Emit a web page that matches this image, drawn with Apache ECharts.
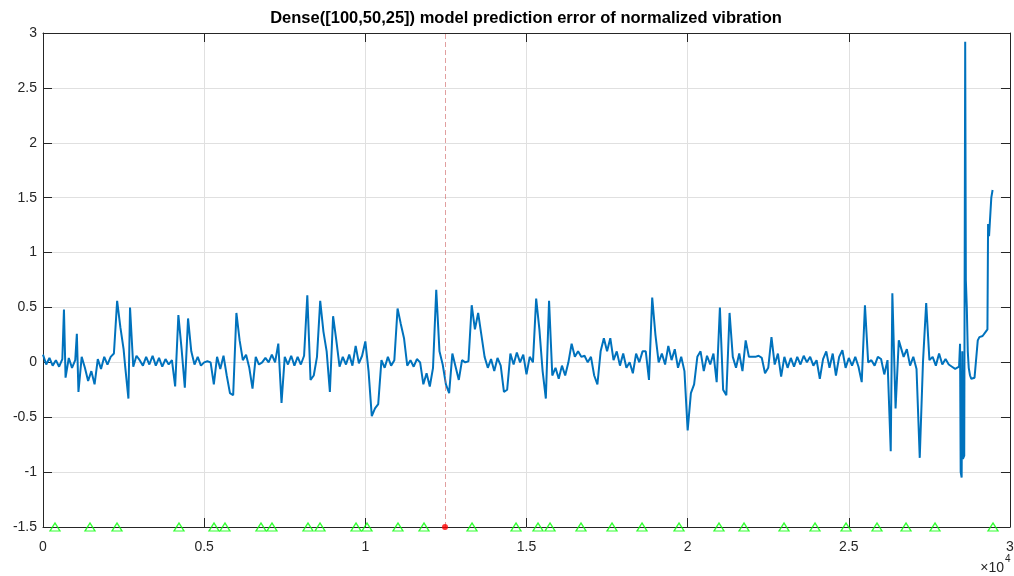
<!DOCTYPE html>
<html>
<head>
<meta charset="utf-8">
<title>Dense model prediction error</title>
<script src="https://cdn.jsdelivr.net/npm/echarts@6/dist/echarts.min.js"></script>
<style>
  html, body { margin: 0; padding: 0; background: #fff; }
  #chart { width: 1014px; height: 576px; }
</style>
</head>
<body>
<div id="chart"></div>
<script>
// prediction error of normalized vibration, [sample index, error]
const errorPoints = [
  [0,0.07],[100,-0.02],[200,0.04],[300,-0.03],[400,0.02],[500,-0.04],[600,0.03],[650,0.48],[700,-0.14],[800,0.04],[900,-0.05],
  [1000,0.02],[1050,0.26],[1100,-0.27],[1200,0.05],[1300,-0.05],[1400,-0.17],[1500,-0.08],[1600,-0.2],[1700,0.03],[1800,-0.06],[1900,0.05],
  [2000,-0.02],[2100,0.05],[2200,0.08],[2300,0.56],[2400,0.32],[2500,0.12],[2550,-0.04],[2650,-0.33],[2700,0.5],[2800,-0.04],[2900,0.06],
  [3000,0.02],[3100,-0.03],[3200,0.05],[3300,-0.02],[3400,0.06],[3500,-0.03],[3600,0.04],[3700,-0.04],[3800,0.03],[3900,-0.02],
  [4000,0.02],[4100,-0.22],[4200,0.43],[4300,0.12],[4400,-0.23],[4500,0.4],[4600,0.1],[4700,-0.02],[4800,0.05],[4900,-0.03],
  [5000,0.0],[5100,0.01],[5200,0.0],[5300,-0.2],[5400,0.05],[5500,-0.06],[5600,0.06],[5700,-0.12],[5800,-0.28],[5900,-0.3],
  [6000,0.45],[6100,0.2],[6200,0.02],[6300,0.07],[6400,-0.05],[6500,-0.24],[6600,0.05],[6700,-0.02],[6800,0.0],[6900,0.04],
  [7000,0.0],[7100,0.07],[7200,0.0],[7300,0.17],[7400,-0.37],[7500,0.05],[7600,-0.02],[7700,0.06],[7800,-0.03],[7900,0.05],
  [8000,-0.02],[8100,0.06],[8200,0.61],[8300,-0.16],[8400,-0.12],[8500,0.05],[8600,0.56],[8700,0.28],[8800,0.1],[8900,-0.27],
  [9000,0.42],[9100,0.2],[9200,-0.04],[9300,0.05],[9400,-0.02],[9500,0.07],[9600,-0.03],[9700,0.15],[9800,-0.01],[9900,0.06],
  [10000,0.19],[10100,-0.08],[10200,-0.49],[10300,-0.42],[10400,-0.38],[10500,0.02],[10600,-0.05],[10700,0.05],[10800,-0.03],[10900,0.02],
  [11000,0.49],[11100,0.35],[11200,0.22],[11300,-0.03],[11400,0.02],[11500,-0.04],[11600,0.03],[11700,0.0],[11800,-0.2],[11900,-0.1],
  [12000,-0.22],[12100,-0.05],[12200,0.66],[12300,0.1],[12400,-0.02],[12500,-0.2],[12600,-0.28],[12700,0.08],[12800,-0.04],[12900,-0.16],
  [13000,0.02],[13100,0.0],[13200,0.01],[13300,0.52],[13400,0.3],[13500,0.45],[13600,0.25],[13700,0.05],[13800,-0.05],[13900,0.03],
  [14000,-0.08],[14100,0.04],[14200,-0.03],[14300,-0.27],[14400,-0.25],[14500,0.08],[14600,-0.02],[14700,0.09],[14800,0.0],[14900,0.07],
  [15000,-0.11],[15100,0.05],[15200,0.0],[15300,0.58],[15400,0.3],[15500,-0.08],[15600,-0.33],[15700,0.56],[15800,-0.12],[15900,-0.05],
  [16000,-0.15],[16100,-0.03],[16200,-0.12],[16300,0.0],[16400,0.17],[16500,0.05],[16600,0.1],[16700,0.05],[16800,0.06],[16900,0.0],
  [17000,0.05],[17100,-0.12],[17200,-0.2],[17300,0.1],[17400,0.22],[17500,0.1],[17600,0.22],[17700,0.02],[17800,0.1],[17900,-0.03],
  [18000,0.08],[18100,-0.05],[18200,0.0],[18300,-0.1],[18400,0.08],[18500,0.0],[18600,0.1],[18700,0.1],[18800,-0.16],[18900,0.59],
  [19000,0.25],[19100,0.0],[19200,0.08],[19300,-0.02],[19400,0.15],[19500,0.02],[19600,0.12],[19700,-0.05],[19800,0.05],[19900,-0.08],
  [20000,-0.62],[20100,-0.28],[20200,-0.2],[20300,0.05],[20400,0.1],[20500,-0.08],[20600,0.06],[20700,-0.02],[20800,0.08],[20900,-0.18],
  [21000,0.5],[21100,-0.25],[21200,-0.3],[21300,0.45],[21400,0.05],[21500,-0.05],[21600,0.08],[21700,-0.08],[21800,0.2],[21900,0.05],
  [22000,0.05],[22100,0.05],[22200,0.06],[22300,0.04],[22400,-0.1],[22500,-0.05],[22600,0.23],[22700,-0.02],[22800,0.08],[22900,-0.13],
  [23000,0.05],[23100,-0.05],[23200,0.04],[23300,-0.04],[23400,0.05],[23500,-0.02],[23600,0.06],[23700,0.0],[23800,0.05],[23900,-0.03],
  [24000,0.02],[24100,-0.15],[24200,0.03],[24300,0.1],[24400,-0.05],[24500,0.08],[24600,-0.12],[24700,0.05],[24800,0.11],[24900,-0.05],
  [25000,0.04],[25100,-0.03],[25200,0.05],[25300,-0.04],[25400,-0.18],[25500,0.52],[25600,0.0],[25700,0.02],[25800,-0.03],[25900,0.05],
  [26000,0.03],[26100,-0.11],[26200,0.02],[26300,-0.81],[26350,0.63],[26450,-0.42],[26550,0.2],[26700,0.05],[26800,0.12],[26900,-0.03],
  [27000,0.05],[27100,-0.06],[27200,-0.87],[27300,0.0],[27400,0.54],[27500,0.02],[27600,0.05],[27700,-0.03],[27800,0.08],[27900,-0.02],
  [28000,0.03],[28100,-0.02],[28200,-0.04],[28300,-0.06],[28420,-0.04],[28450,0.17],[28470,-1.0],[28500,-1.05],[28520,0.1],[28540,-0.88],
  [28580,-0.85],[28610,2.92],[28630,0.75],[28660,0.5],[28690,0.1],[28720,-0.05],[28760,-0.12],[28800,-0.15],[28900,-0.14],
  [28960,-0.13],[29000,0.2],[29050,0.23],[29150,0.24],[29250,0.28],[29300,0.3],[29320,1.26],[29350,1.15],[29380,1.3],[29420,1.5],[29460,1.57],[29480,1.57]
];

// event markers along the bottom (green triangles) and the anomaly (red)
const eventX = [372, 1458, 2296, 4219, 5305, 5646, 6763, 7104, 8221, 8594, 9711, 10052, 11013, 11820,
  13310, 14675, 15357, 15730, 16691, 17653, 18584, 19732, 20972, 21748, 22989, 23951, 24913, 25874, 26774, 27674, 29473];
const anomalyX = 12472;
const markerY = -1.5;

const titleText = "Dense([100,50,25]) model prediction error of normalized vibration";
const font = '"Liberation Sans", Arial, sans-serif';
const axisColor = "#262626";

const chart = echarts.init(document.getElementById("chart"));

const plainAxis = {
  axisLine: { show: true, onZero: false, lineStyle: { color: axisColor, width: 1 } },
  axisTick: { show: true, inside: true, length: 9, lineStyle: { color: axisColor } },
  axisLabel: { show: false },
  splitLine: { show: false }
};

const option = {
  animation: false,
  backgroundColor: "#fff",
  grid: { left: 43, right: 4, top: 33, bottom: 49, outerBoundsMode: "none", containLabel: false },
  xAxis: [
    {
      type: "value", min: 0, max: 30000, interval: 5000, position: "bottom",
      axisLine: { show: true, onZero: false, lineStyle: { color: axisColor, width: 1 } },
      axisTick: { show: true, inside: true, length: 9, lineStyle: { color: axisColor } },
      axisLabel: {
        color: axisColor, fontSize: 14, fontFamily: font, margin: 13,
        formatter: v => String(v / 10000)
      },
      splitLine: { show: true, lineStyle: { color: "#e0e0e0", width: 1 } }
    },
    Object.assign({ type: "value", min: 0, max: 30000, interval: 5000, position: "top" }, plainAxis)
  ],
  yAxis: [
    {
      type: "value", min: -1.5, max: 3, interval: 0.5, position: "left",
      axisLine: { show: true, onZero: false, lineStyle: { color: axisColor, width: 1 } },
      axisTick: { show: true, inside: true, length: 9, lineStyle: { color: axisColor } },
      axisLabel: { color: axisColor, fontSize: 14, fontFamily: font, margin: 6 },
      splitLine: { show: true, lineStyle: { color: "#e0e0e0", width: 1 } }
    },
    Object.assign({ type: "value", min: -1.5, max: 3, interval: 0.5, position: "right" }, plainAxis)
  ],
  series: [
    {
      name: "error",
      type: "line",
      data: errorPoints,
      showSymbol: false,
      sampling: "none",
      lineStyle: { color: "#0072BD", width: 2 },
      itemStyle: { color: "#0072BD" },
      markLine: {
        silent: true,
        symbol: "none",
        label: { show: false },
        lineStyle: { color: "rgba(205,95,95,0.6)", type: [5, 3], width: 1 },
        data: [{ xAxis: anomalyX }]
      },
      z: 2
    },
    {
      name: "events",
      type: "scatter",
      data: eventX.map(x => [x, markerY]),
      symbol: "triangle",
      symbolSize: [10, 8],
      clip: false,
      itemStyle: { color: "rgba(255,255,255,0)", borderColor: "#00ff00", borderWidth: 1.3 },
      z: 5
    },
    {
      name: "anomaly",
      type: "scatter",
      data: [[anomalyX, markerY]],
      symbol: "circle",
      symbolSize: 6,
      clip: false,
      itemStyle: { color: "#ff0000" },
      z: 6
    }
  ],
  graphic: [
    {
      type: "text", x: 526, y: 18,
      style: { text: titleText, font: 'bold 16.5px ' + font, fill: "#000", textAlign: "center", textVerticalAlign: "middle" }
    },
    {
      type: "text", x: 1004, y: 568,
      style: { text: "\u00d710", font: '14px ' + font, fill: axisColor, textAlign: "right", textVerticalAlign: "middle" }
    },
    {
      type: "text", x: 1005, y: 559,
      style: { text: "4", font: '10px ' + font, fill: axisColor, textAlign: "left", textVerticalAlign: "middle" }
    }
  ]
};

chart.setOption(option);
</script>
</body>
</html>
